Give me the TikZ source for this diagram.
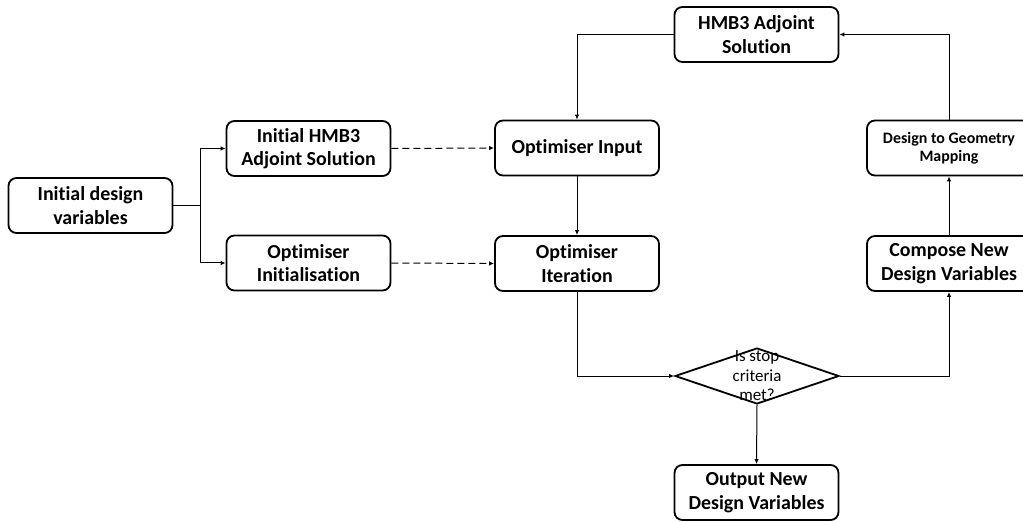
\documentclass[tikz,border=0pt]{standalone}
\usepackage{fontspec}
\setmainfont[Ligatures=NoCommon]{Carlito}
\usetikzlibrary{arrows.meta,shapes.geometric}
\tikzset{
  box/.style={draw=black, line width=1.8bp, rounded corners=8bp, fill=white,
    minimum width=164bp, minimum height=55bp, inner sep=0pt, align=center,
    font=\fontsize{20}{23.5}\selectfont\bfseries},
  smallbox/.style={box, font=\fontsize{16}{18}\selectfont\bfseries},
  decision/.style={draw=black, line width=1.8bp, shape=diamond, fill=white,
    minimum width=164bp, minimum height=56bp, inner sep=0pt, aspect=2.9},
  conn/.style={draw=black, line width=1bp, -{Latex[length=5bp,width=4.5bp]}},
  plainconn/.style={draw=black, line width=1bp},
  dashconn/.style={conn, dash pattern=on 7bp off 4bp},
}
\begin{document}
\begin{tikzpicture}[x=1bp,y=-1bp]
\useasboundingbox (0,0) rectangle (1023,522);
\node[box] (idv) at (90.5,205.5) {Initial design\\variables};
\node[box] (ihmb) at (308.5,148.5) {Initial HMB3\\Adjoint Solution};
\node[box] (oinit) at (308.5,263) {Optimiser\\Initialisation};
\node[box] (oin) at (577,148) {Optimiser Input};
\node[box] (oiter) at (577,263.5) {Optimiser\\Iteration};
\node[box] (hmb) at (756.5,34.5) {HMB3 Adjoint\\Solution};
\node[smallbox] (dgm) at (949,148) {Design to Geometry\\Mapping};
\node[box] (cnd) at (949,263.5) {Compose New\\Design Variables};
\node[decision, label={[align=center, font=\fontsize{17}{19.5}\selectfont]center:Is stop\\criteria\\met?}] (dia) at (757,376) {};
\node[box] (out) at (756.5,492.5) {Output New\\Design Variables};
\coordinate (br) at (200,205.5);
\draw[plainconn] (idv.east) -- (br);
\draw[conn] (br) |- (ihmb.west);
\draw[conn] (br) |- (oinit.west);
\draw[dashconn] (ihmb.east) -- (oin.west);
\draw[dashconn] (oinit.east) -- (oiter.west);
\draw[conn] (hmb.west) -| (oin.north);
\draw[conn] (oin.south) -- (oiter.north);
\draw[conn] (oiter.south) |- (dia.west);
\draw[conn] (dia.east) -| (cnd.south);
\draw[conn] (cnd.north) -- (dgm.south);
\draw[conn] (dgm.north) |- (hmb.east);
\draw[conn] (dia.south) -- (out.north);
\end{tikzpicture}
\end{document}
